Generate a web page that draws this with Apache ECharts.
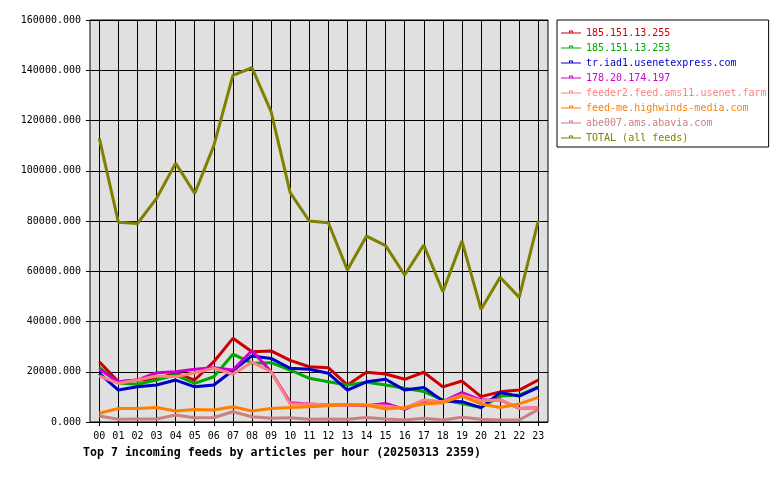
<!DOCTYPE html>
<html>
<head>
<meta charset="utf-8">
<title>Top 7 incoming feeds</title>
<script src="https://cdn.jsdelivr.net/npm/echarts@6/dist/echarts.min.js"></script>
<style>
  html, body { margin: 0; padding: 0; background: #fff; }
  #main { width: 780px; height: 480px; }
</style>
</head>
<body>
<div id="main"></div>
<script>
var hours = ['00','01','02','03','04','05','06','07','08','09','10','11','12','13','14','15','16','17','18','19','20','21','22','23'];

var feedNames = ['185.151.13.255', '185.151.13.253', 'tr.iad1.usenetexpress.com', '178.20.174.197',
  'feeder2.feed.ams11.usenet.farm', 'feed-me.highwinds-media.com', 'abe007.ams.abavia.com', 'TOTAL (all feeds)'];
var feedColors = ['#cc0000', '#00aa00', '#0000cc', '#cc00cc', '#ff8080', '#ff8000', '#cc8080', '#808000'];

var red255   = [24000,16000,16700,17000,19500,16700,24000,33300,28000,28300,24500,22000,21600,14700,19800,19100,17000,19800,14000,16300,10100,12000,12700,16700];
var green253 = [21800,15500,15000,16700,18700,15400,18000,27000,23400,23600,20700,17400,16000,14700,15800,14700,13400,12100,8800,7400,5800,10300,10700,14000];
var blueIad1 = [19400,12700,14000,14700,16700,14000,14700,20500,26300,25300,21400,21000,19400,12700,16000,17000,12700,13700,8400,8100,5700,11700,10300,13800];
var mag197   = [21000,16000,16700,19600,20000,21000,21600,20700,28400,20000,7700,7200,6800,6800,6500,7400,5000,8500,8100,11700,8800,8800,5400,5800];
var feeder2  = [18300,15400,16700,18300,18000,19600,21400,19000,23800,20000,7200,7200,6800,6800,6800,6400,5400,8800,8100,10700,8500,8800,5400,5800];
var feedMe   = [3500,5400,5400,5800,4400,5000,4800,6100,4400,5400,5800,6100,6500,7000,6800,5200,5800,7200,7700,10300,7200,5800,7200,9800];
var abe007   = [2400,1100,1200,1200,2800,1700,1800,4100,2100,1500,1700,1100,1200,1100,1800,1200,800,1500,800,1900,1100,800,800,5000];
var total    = [113000,79500,79000,89000,103000,91000,110000,138000,141000,123500,91300,80000,79300,60500,74000,70200,58500,70400,51900,72000,44800,57600,49600,80100];

var feedValues = [red255, green253, blueIad1, mag197, feeder2, feedMe, abe007, total];

var mono = '"DejaVu Sans Mono", monospace';
// legend marker: thin line with a tiny hollow square, in a 20x10 box
var legendIcon = 'path://M0,0 M20,10 M0,4.5 L20,4.5 L20,5.5 L0,5.5 Z M8,2.5 L12,2.5 L12,5 L8,5 Z M9,3.5 L9,4.5 L11,4.5 L11,3.5 Z';

var myChart = echarts.init(document.getElementById('main'), null, { renderer: 'canvas' });

var series = feedNames.map(function (name, i) {
  return {
    name: name,
    type: 'line',
    xAxisIndex: 1,
    yAxisIndex: 1,
    data: feedValues[i],
    symbol: 'rect',
    showSymbol: false,
    lineStyle: { width: 3, color: feedColors[i] },
    itemStyle: { color: feedColors[i] },
    z: 3 + i
  };
});

myChart.setOption({
  animation: false,
  title: {
    text: 'Top 7 incoming feeds by articles per hour (20250313 2359)',
    left: 83,
    top: 447,
    padding: 0,
    textStyle: { fontFamily: mono, fontWeight: 'bold', fontSize: 11.6, color: '#000' }
  },
  legend: {
    orient: 'vertical',
    left: 557,
    top: 20,
    padding: [8, 2, 4, 4],
    itemWidth: 20,
    itemHeight: 10,
    itemGap: 5,
    icon: legendIcon,
    itemStyle: { borderWidth: 0 },
    borderColor: '#000',
    borderWidth: 1,
    backgroundColor: '#fff',
    selectedMode: false,
    textStyle: { fontFamily: mono, fontSize: 10 },
    data: feedNames.map(function (n, i) {
      return { name: n, textStyle: { color: feedColors[i] } };
    })
  },
  grid: [
    { left: 90, top: 20, width: 458, height: 402, show: true, backgroundColor: '#e0e0e0', borderColor: '#000', borderWidth: 1 },
    { left: 99.3, top: 20, width: 439, height: 402 }
  ],
  xAxis: [
    { gridIndex: 0, type: 'value', min: 0, max: 1, show: false },
    {
      gridIndex: 1, type: 'category', data: hours, boundaryGap: false,
      axisLine: { show: false },
      axisTick: { show: true, length: 4, lineStyle: { color: '#000' } },
      axisLabel: { fontFamily: mono, fontSize: 10, color: '#000', margin: 9, interval: 0 },
      splitLine: { show: true, lineStyle: { color: '#000', width: 1 } }
    }
  ],
  yAxis: [
    {
      gridIndex: 0, type: 'value', min: 0, max: 160000, interval: 20000,
      axisLine: { show: false },
      axisTick: { show: true, length: 4, lineStyle: { color: '#000' } },
      axisLabel: {
        fontFamily: mono, fontSize: 10, color: '#000', margin: 9,
        formatter: function (v) { return v.toFixed(3); }
      },
      splitLine: { show: true, lineStyle: { color: '#000', width: 1 } }
    },
    { gridIndex: 1, type: 'value', min: 0, max: 160000, show: false }
  ],
  series: series
});

window.onresize = function () {
  myChart.resize();
};
</script>
</body>
</html>
